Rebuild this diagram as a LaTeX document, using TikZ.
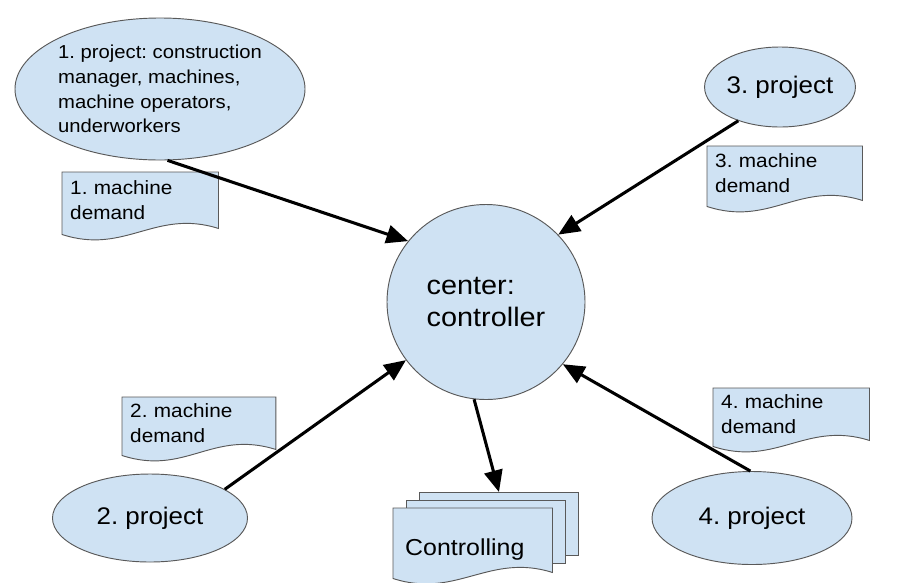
\documentclass[tikz,border=0pt]{standalone}
\usepackage{fontspec}
\setmainfont{Liberation Sans}[FakeStretch=1.08]
\frenchspacing
\usetikzlibrary{arrows.meta,shapes.geometric,backgrounds}
\definecolor{paleblue}{HTML}{CFE2F3}
\definecolor{edgegray}{HTML}{595959}
% outline of a sheet with a wavy lower edge, drawn round a named node
\newcommand{\wavyoutline}[1]{%
  \path[docfill] (#1.north west) -- (#1.north east) -- (#1.south east)
    .. controls ([xshift=-1.9cm,yshift=0.6cm]#1.south east) and ([xshift=1.9cm,yshift=-0.8cm]#1.south west) .. ([yshift=-0.18cm]#1.south west) -- cycle;}

\begin{document}
\begin{tikzpicture}[x=0.03cm,y=-0.03cm,
  blob/.style={ellipse,draw=edgegray,line width=0.8pt,fill=paleblue,inner sep=0pt,align=center},
  docnode/.style={anchor=north west,inner xsep=0.24cm,inner ysep=0pt,text width=4.2cm,align=left,font=\fontsize{16.4}{21}\selectfont},
  docfill/.style={draw=edgegray,line width=0.8pt,fill=paleblue},
  flow/.style={-{Triangle[length=6.5mm,width=5.5mm]},line width=2.6pt}]
\useasboundingbox (0,0) rectangle (905,582);
\node[blob,minimum width=8.7cm,minimum height=4.26cm,align=left,font=\fontsize{16}{21}\selectfont] (proj1) at (160,89) {1. project: construction\\manager, machines,\\machine operators,\\underworkers};
\node[blob,minimum width=4.38cm,minimum height=2.4cm,font=\fontsize{20.5}{24}\selectfont] (proj3) at (780,87) {3. project};
\node[blob,minimum width=5.85cm,minimum height=2.64cm,font=\fontsize{20.5}{24}\selectfont] (proj2) at (150,518) {2. project};
\node[blob,minimum width=6.0cm,minimum height=2.79cm,font=\fontsize{20.5}{24}\selectfont] (proj4) at (752,518) {4. project};
\node[blob,minimum width=5.94cm,minimum height=5.85cm,align=left,font=\fontsize{22.8}{27}\selectfont] (ctr) at (486,302) {center:\\controller};
\node[docnode,minimum height=1.68cm] (dem1) at (62,172) {1. machine\\demand};
\node[docnode,text width=4.17cm,minimum height=1.62cm] (dem3) at (707,146) {3. machine\\demand};
\node[docnode,text width=4.12cm,minimum height=1.56cm] (dem2) at (122,397) {2. machine\\demand};
\node[docnode,minimum height=1.56cm] (dem4) at (713,388) {4. machine\\demand};
\node[docnode,inner xsep=0.36cm,text width=4.05cm,minimum height=1.92cm,text height=1.1cm,text depth=0.2cm,font=\fontsize{19.7}{22}\selectfont] (ctrl) at (393,508) {Controlling};
\begin{scope}[on background layer]
\node[docfill,anchor=north west,minimum width=4.77cm,minimum height=1.9cm] (ctrl3) at (419,492) {};
\node[docfill,anchor=north west,minimum width=4.77cm,minimum height=1.9cm] (ctrl2) at (406,500) {};
\wavyoutline{ctrl}
\wavyoutline{dem1}
\wavyoutline{dem2}
\wavyoutline{dem3}
\wavyoutline{dem4}
\end{scope}
\draw[flow] (proj1.-84) -- (ctr.142);
\draw[flow] (proj3.219) -- (ctr.43);
\draw[flow] (proj2.21) -- (ctr.216);
\draw[flow] (proj4.92) -- (ctr.-39);
\draw[flow] (ctr.-97) -- (ctrl3.north);
\end{tikzpicture}
\end{document}
